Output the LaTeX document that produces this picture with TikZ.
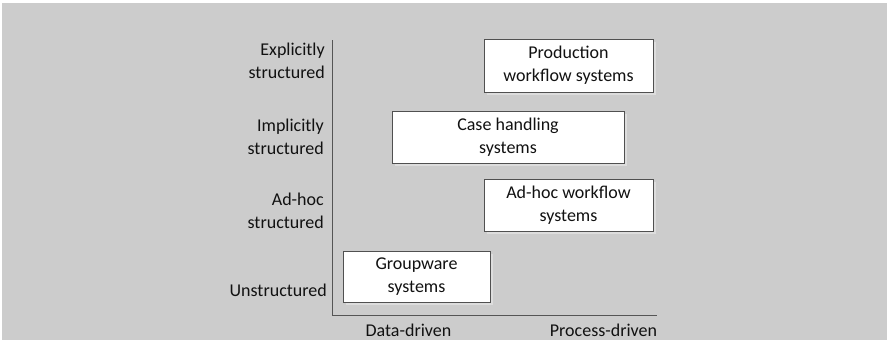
\documentclass[tikz,border=0pt]{standalone}
\usepackage{fontspec}
\setmainfont{Carlito}
\definecolor{bggray}{HTML}{CCCCCC}
\definecolor{shadowgray}{HTML}{DDDDDD}
\definecolor{edgegray}{HTML}{505050}
\definecolor{axisgray}{HTML}{555555}
\definecolor{txt}{HTML}{111111}
\begin{document}
\begin{tikzpicture}[x=1pt,y=-1pt,
  every node/.style={font=\fontsize{18}{23}\selectfont, text=txt},
  sysbox/.style={draw=edgegray, line width=0.9pt, fill=white, align=center, inner sep=0pt},
  axislabel/.style={anchor=east, align=right, inner sep=0pt},
  axisline/.style={draw=axisgray, line width=1pt}]
\useasboundingbox (0,0) rectangle (887,340);
\fill[white] (0,0) rectangle (887,340);
\fill[bggray] (2,3) rectangle (887,340);
% shadows
\fill[shadowgray] (487,42) rectangle (656,95);
\fill[shadowgray] (395,114) rectangle (627,166);
\fill[shadowgray] (487,182) rectangle (656,234);
\fill[shadowgray] (346,254) rectangle (493,305);
% boxes
\node[sysbox, minimum width=169pt, minimum height=53pt] (prod) at (568.5,65.5) {Production\\workflow systems};
\node[sysbox, minimum width=232pt, minimum height=52pt] (case) at (508,137) {Case handling\\systems};
\node[sysbox, minimum width=169pt, minimum height=52pt] (adhoc) at (568.5,205) {Ad-hoc workflow\\systems};
\node[sysbox, minimum width=147pt, minimum height=51pt] (group) at (416.5,276.5) {Groupware\\systems};
% axes
\coordinate (top) at (332,40);
\coordinate (origin) at (332,315);
\coordinate (right) at (657,315);
\draw[axisline] (top) -- (origin) -- (right);
% axis labels
\node[axislabel] (expl) at (325,61) {Explicitly\\structured};
\node[axislabel] (impl) at (324,137) {Implicitly\\structured};
\node[axislabel] (adh) at (324,211) {Ad-hoc\\structured};
\node[axislabel] (unst) at (327,290) {Unstructured};
\node[inner sep=0pt] (data) at (408.5,330) {Data-driven};
\node[inner sep=0pt] (proc) at (603.5,330) {Process-driven};
\end{tikzpicture}
\end{document}
